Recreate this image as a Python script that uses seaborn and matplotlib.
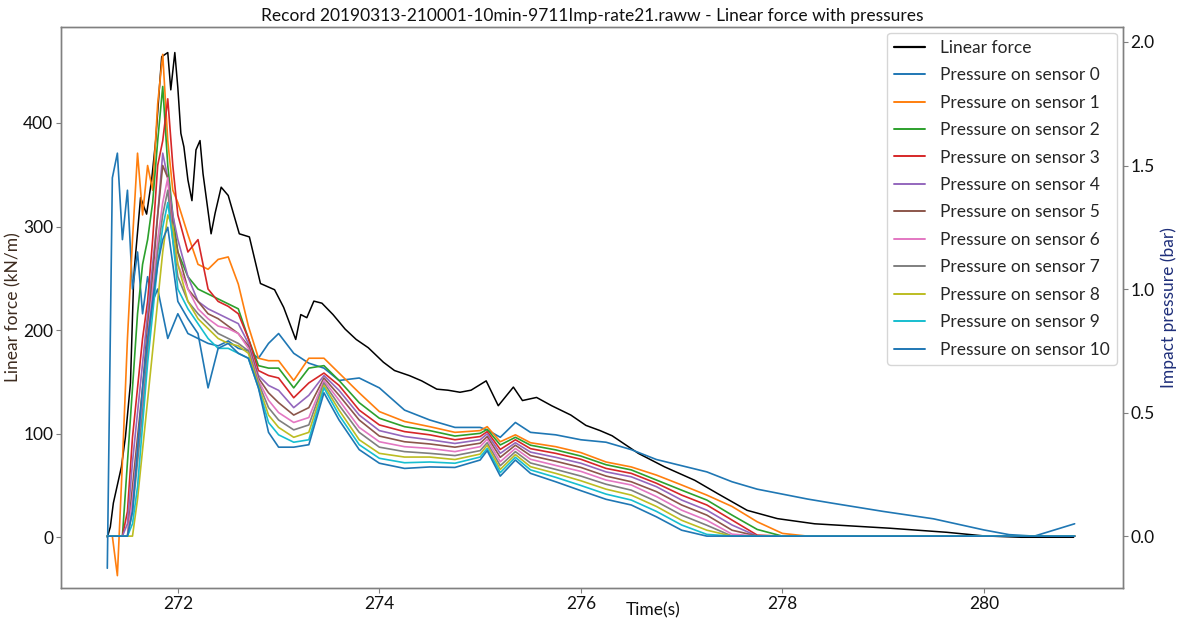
import matplotlib
matplotlib.use("Agg")
import matplotlib.pyplot as plt
import seaborn as sns
import numpy as np
import pandas as pd
from matplotlib.lines import Line2D

sns.set_theme(style="white")
plt.rcParams['font.family'] = ['Lato', 'DejaVu Sans']

TITLE = "Record 20190313-210001-10min-9711Imp-rate21.raww - Linear force with pressures"

# ---- Linear force (left axis, kN/m) ----
force_t = [271.30, 271.33, 271.36, 271.44, 271.48, 271.53, 271.56, 271.57, 271.63, 271.69,
           271.74, 271.78, 271.82, 271.84, 271.90, 271.93, 271.97, 272.00, 272.03, 272.06,
           272.10, 272.14, 272.18, 272.22, 272.25, 272.33, 272.37, 272.43, 272.50, 272.61,
           272.71, 272.82, 272.96, 273.05, 273.17, 273.22, 273.28, 273.35, 273.43, 273.54,
           273.66, 273.77, 273.89, 274.04, 274.15, 274.30, 274.42, 274.57, 274.68, 274.80,
           274.91, 275.06, 275.18, 275.33, 275.42, 275.56, 275.71, 275.90, 276.05, 276.19,
           276.31, 276.57, 276.83, 277.13, 277.36, 277.65, 277.95, 278.32, 279.07, 279.63,
           280.00, 280.37, 280.89]
force_v = [0, 10, 33, 68, 97, 149, 245, 261, 328, 312,
           345, 383, 438, 464, 468, 432, 468, 434, 390, 377,
           345, 325, 374, 383, 351, 293, 313, 338, 330, 293,
           290, 245, 239, 222, 191, 215, 212, 228, 226, 215,
           201, 191, 183, 169, 161, 156, 151, 143, 142, 140,
           142, 151, 127, 145, 132, 135, 127, 118, 108, 103,
           98, 81, 68, 55, 42, 26, 18, 13, 8.7, 4.8,
           1.3, 0, 0]

# ---- Pressures (right axis, bar) ----
time_s = [271.30, 271.35, 271.40, 271.45, 271.50, 271.55, 271.60, 271.65, 271.70, 271.75,
          271.80, 271.85, 271.90, 271.95, 272.00, 272.10, 272.20, 272.30, 272.40, 272.50,
          272.60, 272.70, 272.80, 272.90, 273.00, 273.15, 273.30, 273.45, 273.60, 273.80,
          274.00, 274.25, 274.50, 274.75, 275.00, 275.07, 275.20, 275.35, 275.50, 275.75,
          276.00, 276.25, 276.50, 276.75, 277.00, 277.25, 277.50, 277.75, 278.00, 278.25,
          278.50, 279.00, 279.50, 280.00, 280.25, 280.50, 280.90]

p0 = [-0.13, 1.45, 1.55, 1.20, 1.40, 1.00, 1.15, 0.90, 1.05, 0.95,
      1.00, 0.90, 0.80, 0.85, 0.90, 0.82, 0.80, 0.78, 0.77, 0.79,
      0.76, 0.75, 0.72, 0.78, 0.82, 0.74, 0.70, 0.68, 0.63, 0.64,
      0.60, 0.51, 0.47, 0.44, 0.44, 0.43, 0.40, 0.46, 0.42, 0.41,
      0.39, 0.38, 0.35, 0.31, 0.285, 0.26, 0.22, 0.19, 0.17, 0.15,
      0.133, 0.10, 0.07, 0.025, 0.006, 0.0, 0.05]
p1 = [0.0, 0.0, -0.16, 0.30, 0.80, 1.20, 1.55, 1.30, 1.50, 1.40,
      1.75, 1.95, 1.60, 1.40, 1.35, 1.22, 1.10, 1.08, 1.12, 1.13,
      1.02, 0.85, 0.72, 0.71, 0.71, 0.63, 0.72, 0.72, 0.66, 0.58,
      0.504, 0.464, 0.443, 0.42, 0.427, 0.443, 0.382, 0.41, 0.378, 0.362,
      0.338, 0.30, 0.28, 0.247, 0.207, 0.166, 0.12, 0.058, 0.011, 0.0,
      0.0, 0.0, 0.0, 0.0, 0.0, 0.0, 0.0]
p2 = [0.0, 0.0, 0.0, 0.0, 0.30, 0.60, 0.90, 1.10, 1.20, 1.35,
      1.60, 1.82, 1.50, 1.30, 1.15, 1.05, 1.00, 0.98, 0.96, 0.94,
      0.92, 0.80, 0.69, 0.68, 0.68, 0.60, 0.68, 0.69, 0.63, 0.54,
      0.477, 0.443, 0.427, 0.405, 0.416, 0.432, 0.369, 0.40, 0.368, 0.349,
      0.324, 0.289, 0.268, 0.227, 0.186, 0.146, 0.085, 0.027, 0.0, 0.0,
      0.0, 0.0, 0.0, 0.0, 0.0, 0.0, 0.0]
p3 = [0.0, 0.0, 0.0, 0.0, 0.10, 0.40, 0.60, 0.80, 0.95, 1.20,
      1.50, 1.60, 1.77, 1.50, 1.30, 1.15, 1.20, 1.00, 0.95, 0.93,
      0.90, 0.80, 0.67, 0.65, 0.64, 0.56, 0.62, 0.66, 0.61, 0.51,
      0.45, 0.423, 0.41, 0.39, 0.403, 0.423, 0.351, 0.39, 0.354, 0.335,
      0.311, 0.274, 0.254, 0.214, 0.166, 0.126, 0.065, 0.004, 0.0, 0.0,
      0.0, 0.0, 0.0, 0.0, 0.0, 0.0, 0.0]
p4 = [0.0, 0.0, 0.0, 0.0, 0.05, 0.30, 0.50, 0.70, 0.90, 1.10,
      1.30, 1.55, 1.45, 1.30, 1.20, 1.05, 0.95, 0.92, 0.90, 0.88,
      0.86, 0.78, 0.65, 0.61, 0.59, 0.52, 0.57, 0.65, 0.59, 0.49,
      0.427, 0.403, 0.39, 0.375, 0.39, 0.414, 0.335, 0.378, 0.34, 0.319,
      0.295, 0.26, 0.24, 0.20, 0.146, 0.105, 0.045, 0.0, 0.0, 0.0,
      0.0, 0.0, 0.0, 0.0, 0.0, 0.0, 0.0]
p5 = [0.0, 0.0, 0.0, 0.0, 0.0, 0.20, 0.40, 0.60, 0.85, 1.05,
      1.30, 1.50, 1.45, 1.25, 1.15, 1.00, 0.95, 0.90, 0.88, 0.85,
      0.82, 0.77, 0.64, 0.58, 0.54, 0.49, 0.52, 0.64, 0.57, 0.47,
      0.405, 0.382, 0.373, 0.36, 0.376, 0.403, 0.319, 0.368, 0.326, 0.303,
      0.278, 0.243, 0.22, 0.18, 0.126, 0.085, 0.024, 0.0, 0.0, 0.0,
      0.0, 0.0, 0.0, 0.0, 0.0, 0.0, 0.0]
p6 = [0.0, 0.0, 0.0, 0.0, 0.0, 0.15, 0.35, 0.55, 0.80, 1.00,
      1.20, 1.35, 1.45, 1.20, 1.10, 1.00, 0.92, 0.88, 0.85, 0.84,
      0.82, 0.76, 0.63, 0.55, 0.50, 0.46, 0.48, 0.63, 0.55, 0.44,
      0.382, 0.362, 0.355, 0.342, 0.362, 0.392, 0.301, 0.355, 0.311, 0.286,
      0.262, 0.227, 0.207, 0.16, 0.105, 0.064, 0.008, 0.0, 0.0, 0.0,
      0.0, 0.0, 0.0, 0.0, 0.0, 0.0, 0.0]
p7 = [0.0, 0.0, 0.0, 0.0, 0.0, 0.10, 0.30, 0.50, 0.75, 0.95,
      1.15, 1.30, 1.40, 1.20, 1.05, 0.95, 0.90, 0.86, 0.82, 0.80,
      0.78, 0.75, 0.62, 0.52, 0.47, 0.43, 0.45, 0.62, 0.53, 0.42,
      0.36, 0.342, 0.335, 0.326, 0.346, 0.378, 0.285, 0.342, 0.296, 0.27,
      0.243, 0.21, 0.186, 0.14, 0.085, 0.044, 0.0, 0.0, 0.0, 0.0,
      0.0, 0.0, 0.0, 0.0, 0.0, 0.0, 0.0]
p8 = [0.0, 0.0, 0.0, 0.0, 0.0, 0.0, 0.15, 0.35, 0.55, 0.75,
      0.95, 1.15, 1.30, 1.25, 1.10, 0.95, 0.88, 0.84, 0.80, 0.78,
      0.77, 0.74, 0.61, 0.49, 0.44, 0.40, 0.42, 0.61, 0.51, 0.39,
      0.335, 0.32, 0.32, 0.31, 0.332, 0.368, 0.27, 0.33, 0.281, 0.254,
      0.224, 0.19, 0.166, 0.12, 0.064, 0.024, 0.0, 0.0, 0.0, 0.0,
      0.0, 0.0, 0.0, 0.0, 0.0, 0.0, 0.0]
p9 = [0.0, 0.0, 0.0, 0.0, 0.0, 0.05, 0.20, 0.45, 0.70, 0.90,
      1.10, 1.25, 1.35, 1.20, 1.00, 0.92, 0.86, 0.80, 0.76, 0.76,
      0.74, 0.72, 0.60, 0.46, 0.41, 0.38, 0.39, 0.60, 0.49, 0.37,
      0.315, 0.297, 0.30, 0.295, 0.32, 0.355, 0.257, 0.319, 0.268, 0.238,
      0.205, 0.17, 0.146, 0.10, 0.045, 0.007, 0.0, 0.0, 0.0, 0.0,
      0.0, 0.0, 0.0, 0.0, 0.0, 0.0, 0.0]
p10 = [0.0, 0.0, 0.0, 0.0, 0.0, 0.10, 0.35, 0.60, 0.80, 0.95,
       1.10, 1.20, 1.25, 1.10, 0.95, 0.88, 0.82, 0.60, 0.76, 0.78,
       0.74, 0.72, 0.60, 0.42, 0.36, 0.36, 0.37, 0.58, 0.47, 0.35,
       0.295, 0.274, 0.28, 0.278, 0.308, 0.346, 0.243, 0.308, 0.254, 0.22,
       0.184, 0.149, 0.126, 0.078, 0.024, 0.0, 0.0, 0.0, 0.0, 0.0,
       0.0, 0.0, 0.0, 0.0, 0.0, 0.0, 0.0]

pressures = [p0, p1, p2, p3, p4, p5, p6, p7, p8, p9, p10]
sensor_labels = [f"Pressure on sensor {i}" for i in range(11)]
palette = sns.color_palette("tab10")
sensor_colors = [palette[i % 10] for i in range(11)]

force_df = pd.DataFrame({"t": force_t, "F": force_v})
press_df = pd.concat(
    [pd.DataFrame({"t": time_s, "P": vals, "sensor": lab})
     for vals, lab in zip(pressures, sensor_labels)],
    ignore_index=True)

fig = plt.figure(figsize=(11.79, 6.20), dpi=100)
ax = fig.add_axes([0.0517, 0.0516, 0.9008, 0.9054])
ax2 = ax.twinx()

sns.lineplot(data=force_df, x="t", y="F", ax=ax, color="black", lw=1.1,
             legend=False)
sns.lineplot(data=press_df, x="t", y="P", hue="sensor", hue_order=sensor_labels,
             palette=sensor_colors, ax=ax2, lw=1.2, legend=False)

ax.set_xlim(270.84, 281.38)
ax.set_ylim(-49, 493)
ax2.set_ylim(-0.21, 2.062)
ax.set_xticks([272, 274, 276, 278, 280])
ax.set_yticks([0, 100, 200, 300, 400])
ax2.set_yticks([0.0, 0.5, 1.0, 1.5, 2.0])
ax2.set_yticklabels(["0.0", "0.5", "1.0", "1.5", "2.0"])

for a in (ax, ax2):
    for s in a.spines.values():
        s.set_color("#808080")
        s.set_linewidth(1.0)
    a.tick_params(axis="both", which="both", length=3.5, width=0.8,
                  color="#808080", labelsize=12.5, labelcolor="#111111")
    a.grid(False)
ax.tick_params(axis="y", left=True, pad=2)
ax.tick_params(axis="x", bottom=True, pad=2)
ax2.tick_params(axis="y", right=True, pad=2)

ax.set_xlabel("Time(s)", fontsize=12.5, color="#111111")
ax.xaxis.set_label_coords(0.558, -0.026)
ax.set_ylabel("Linear force (kN/m)", fontsize=12.5, color="#3d2b1f")
ax.yaxis.set_label_coords(-0.037, 0.5)
ax2.set_ylabel("Impact pressure (bar)", fontsize=12.5, color="#1f2f7a", labelpad=4)
ax.set_title(TITLE, fontsize=12.5, color="#111111", pad=4)

handles = [Line2D([], [], color="black", lw=1.6)]
handles += [Line2D([], [], color=c, lw=1.4) for c in sensor_colors]
labels = ["Linear force"] + sensor_labels
leg = ax2.legend(handles, labels, loc="upper right", fontsize=12.5, frameon=True,
                 handlelength=1.75, handletextpad=0.9, labelspacing=0.66,
                 borderaxespad=0.35, fancybox=True)
leg.get_frame().set_edgecolor("#cccccc")

fig.savefig("out.png", dpi=100)
